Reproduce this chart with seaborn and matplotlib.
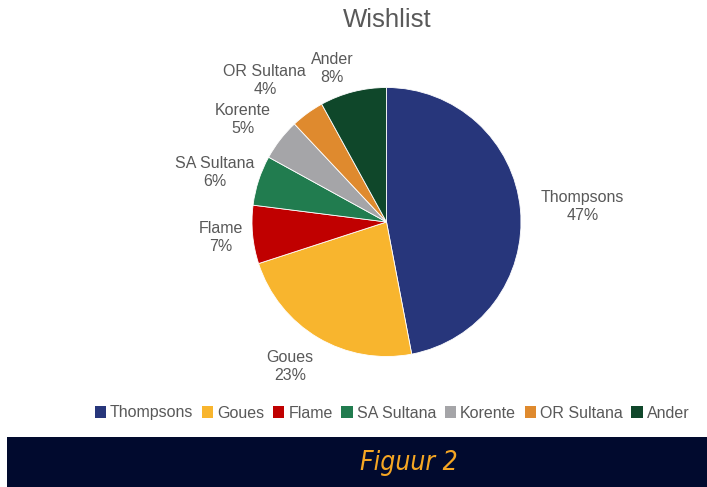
import matplotlib
matplotlib.use("Agg")
import numpy as np
import seaborn as sns
import matplotlib.pyplot as plt
from matplotlib.patches import Rectangle, Patch

# data
categories = ["Thompsons", "Goues", "Flame", "SA Sultana", "Korente", "OR Sultana", "Ander"]
shares = [47, 23, 7, 6, 5, 4, 8]

colors = ["#27367b", "#f8b52e", "#c00000", "#217c4f", "#a5a5a8", "#df8a2e", "#0f472a"]
# label placement (radius in pie radii, angle tweak in degrees)
label_r = [1.46, 1.29, 1.24, 1.33, 1.31, 1.39, 1.21]
label_turn = [-1.0, -3.2, 0.0, 2.1, 2.4, 4.6, 5.2]
grey = "#595959"

sns.set_theme(style="white")
plt.rcParams["font.family"] = ["Liberation Sans", "DejaVu Sans"]

fig = plt.figure(figsize=(7.07, 4.87), dpi=100)
ax = fig.add_axes([0, 0, 1, 1])

wedges, _ = ax.pie(shares, colors=colors, startangle=90, counterclock=False,
                   wedgeprops=dict(linewidth=0.6, edgecolor="white"))

R = 134.5  # pixel radius
cx, cy = 386.5, 487 - 222
ax.set_xlim(-cx / R, (707 - cx) / R)
ax.set_ylim(-cy / R, (487 - cy) / R)
ax.set_aspect("equal")
ax.axis("off")

total = sum(shares)
for w, name, val, r, t in zip(wedges, categories, shares, label_r, label_turn):
    ang = np.deg2rad((w.theta1 + w.theta2) / 2 + t)
    ax.text(r * np.cos(ang), r * np.sin(ang), f"{name}\n{round(100 * val / total)}%",
            ha="center", va="center", fontsize=11.5, color=grey, linespacing=1.25)

fig.text(387 / 707, 1 - 20 / 487, "Wishlist", ha="center", va="center", fontsize=18.5, color=grey)

handles = [Patch(facecolor=c, edgecolor="none") for c in colors]
fig.legend(handles, categories, loc="center", bbox_to_anchor=(392 / 707, 1 - 413 / 487),
           ncol=7, frameon=False, fontsize=11.5, labelcolor=grey,
           handlelength=0.7, handleheight=0.7, handletextpad=0.25, columnspacing=0.55)

# caption banner
fig.add_artist(Rectangle((7 / 707, 0), 1 - 7 / 707, 50 / 487, transform=fig.transFigure,
                         facecolor="#010a2e", edgecolor="none"))
fig.text(409 / 707, 1 - 463 / 487, "Figuur 2", ha="center", va="center", fontsize=19,
         style="italic", fontstretch="condensed", color="#f5a623", family=["DejaVu Sans"])

fig.savefig("out.png", dpi=100, facecolor="white")
